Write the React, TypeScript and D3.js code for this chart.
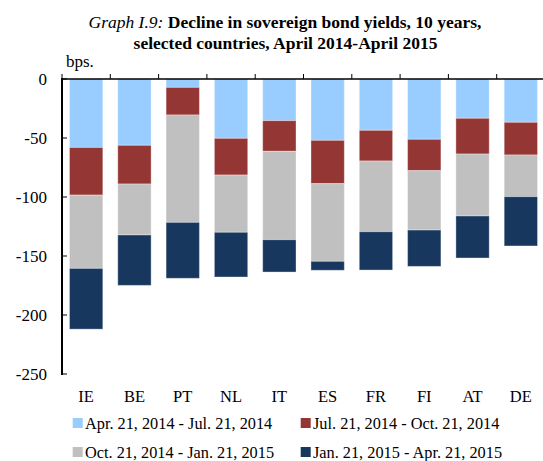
import React from "react";
import * as d3 from "d3";

const categories = ["IE", "BE", "PT", "NL", "IT", "ES", "FR", "FI", "AT", "DE"];
const seriesNames = [
  "Apr. 21, 2014 - Jul. 21, 2014",
  "Jul. 21, 2014 - Oct. 21, 2014",
  "Oct. 21, 2014 - Jan. 21, 2015",
  "Jan. 21, 2015 - Apr. 21, 2015",
];
const aprJul = [-58, -56.2, -7.1, -50.3, -35.3, -52, -43.5, -51.1, -33.3, -36.7];
const julOct = [-40.4, -32.8, -23.4, -31.1, -26, -36.7, -26, -26.6, -30.3, -27.7];
const octJan = [-62.1, -43.2, -91, -48.5, -74.9, -65.8, -59.9, -50.3, -52.5, -35.3];
const janApr = [-51.5, -42.7, -47.4, -37.9, -27.4, -7.6, -32.5, -30.8, -35.6, -41.8];
const yTicks = [0, -50, -100, -150, -200, -250];
const colors = ["#99ccff", "#943634", "#c0c0c0", "#17375e"];

export default function App() {
  const W = 543, H = 461;
  const left = 62, right = 545, top = 79, bottom = 374;
  const seriesData = [aprJul, julOct, octJan, janApr];
  const rows = categories.map((c, i) => {
    const r: any = { cat: c };
    seriesData.forEach((s, k) => (r["s" + k] = s[i]));
    return r;
  });
  const keys = ["s0", "s1", "s2", "s3"];
  const stacked = d3.stack().keys(keys).offset(d3.stackOffsetDiverging)(rows);
  const x = d3.scaleBand().domain(categories).range([left, right]).paddingInner(0.31).paddingOuter(0.155);
  const xb = d3.scaleBand().domain(categories).range([left, right]);
  const y = d3.scaleLinear().domain([0, -250]).range([top, bottom]);
  const font = "Liberation Serif, Times New Roman, serif";

  return (
    <svg width={W} height={H} style={{ position: "absolute", left: 0, top: 0, fontFamily: font }}>
      <text x={285} y={28} textAnchor="middle" fontSize={17.5}>
        <tspan fontStyle="italic">Graph I.9: </tspan>
        <tspan fontWeight="bold">Decline in sovereign bond yields, 10 years,</tspan>
      </text>
      <text x={285.5} y={48.5} textAnchor="middle" fontSize={17.5} fontWeight="bold">
        selected countries, April 2014-April 2015
      </text>
      <text x={66} y={67} fontSize={17}>bps.</text>
      {stacked.map((layer, k) => (
        <g key={k} fill={colors[k]}>
          {layer.map((d: any, i: number) => {
            const y0 = y(d[0]), y1 = y(d[1]);
            return (
              <rect
                key={i}
                x={x(categories[i])}
                width={x.bandwidth()}
                y={Math.min(y0, y1)}
                height={Math.abs(y1 - y0)}
                stroke="#ffffff"
                strokeOpacity={0.35}
                strokeWidth={1}
              />
            );
          })}
        </g>
      ))}
      <line x1={left} x2={right} y1={y(0)} y2={y(0)} stroke="#000" strokeWidth={1.5} />
      {categories.map((c) => (
        <line key={c} x1={xb(c)!} x2={xb(c)!} y1={y(0) - 5} y2={y(0)} stroke="#000" strokeWidth={1} />
      ))}
      <line x1={left} x2={left} y1={y(0) - 1} y2={y(-250) + 1} stroke="#000" strokeWidth={2} />
      {yTicks.map((t) => (
        <g key={t}>
          <line x1={left} x2={left + 5} y1={y(t)} y2={y(t)} stroke="#000" strokeWidth={1} />
          <text x={47} y={y(t)} dy="0.35em" textAnchor="end" fontSize={17}>{t}</text>
        </g>
      ))}
      {categories.map((c) => (
        <text key={c} x={xb(c)! + xb.bandwidth() / 2} y={402} textAnchor="middle" fontSize={16.5}>{c}</text>
      ))}
      {seriesNames.map((n, k) => {
        const lx = k % 2 === 0 ? 72.7 : 300.7;
        const ly = k < 2 ? 423 : 452;
        return (
          <g key={n}>
            <rect x={lx} y={ly - 5} width={10} height={10} fill={colors[k]} />
            <text x={lx + 12.3} y={ly} dy="0.35em" fontSize={16.3}>{n}</text>
          </g>
        );
      })}
    </svg>
  );
}
